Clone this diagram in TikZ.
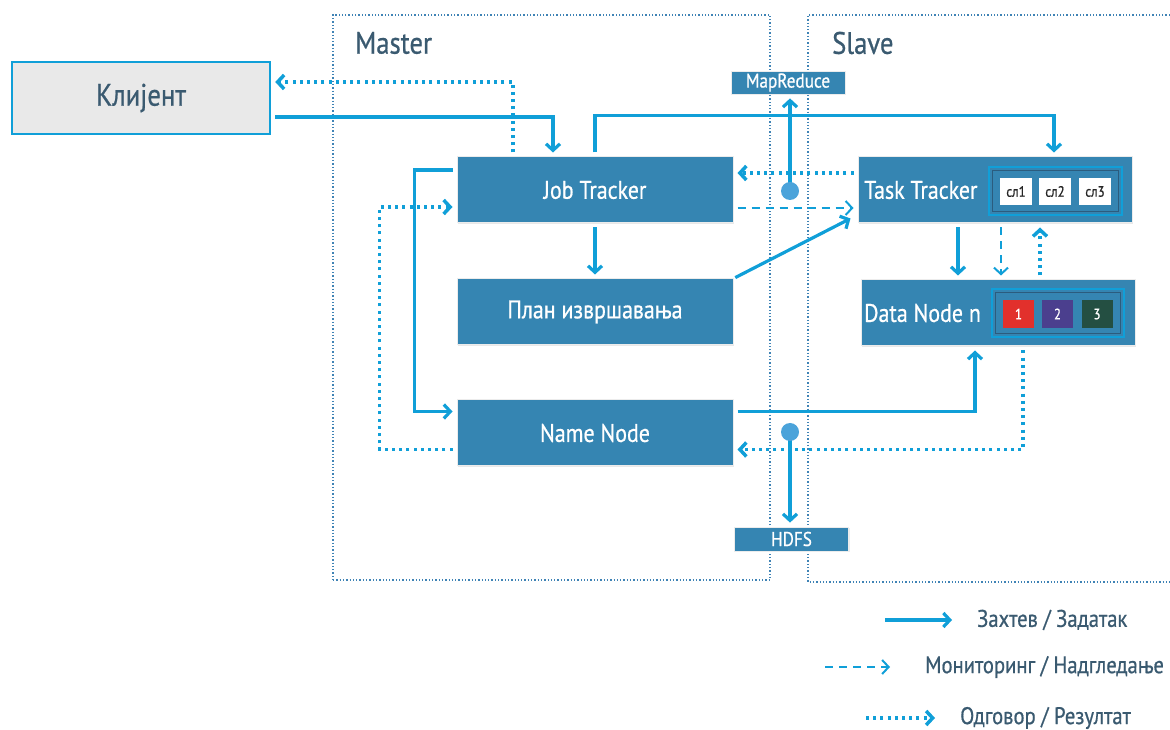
\documentclass[tikz,border=0pt]{standalone}
\usepackage{fontspec}
\setmainfont{PT Sans}[FakeStretch=0.86, FakeBold=0.7]
\usetikzlibrary{arrows.meta,shadows,calc}
\definecolor{flow}{HTML}{109FD8}
\definecolor{boxblue}{HTML}{3585B2}
\definecolor{dotblue}{HTML}{4BA3DA}
\definecolor{frameblue}{HTML}{3F83B5}
\definecolor{ink}{HTML}{3A5A70}
\definecolor{clientgray}{HTML}{E9E9E9}
\definecolor{blkred}{HTML}{E2302C}
\definecolor{blkpurple}{HTML}{4B3F8E}
\definecolor{blkgreen}{HTML}{244F42}
\definecolor{innerline}{HTML}{2B5C7E}
\newcommand\tsize[1]{\fontsize{#1}{#1}\selectfont}
\begin{document}
\begin{tikzpicture}[x=1pt,y=1pt,
  tip/.style={-{Straight Barb[length=6.5pt,width=14pt]}},
  flowline/.style={draw=flow, tip, shorten <=4pt, shorten >=4pt},
  req/.style={flowline, line width=3.2pt},
  mon/.style={flowline, line width=2pt, dash pattern=on 8pt off 6pt},
  res/.style={flowline, line width=3.5pt, dash pattern=on 3pt off 4.2pt},
  frame/.style={draw=frameblue, line width=1.2pt, dash pattern=on 1.3pt off 2pt},
  unit/.style={fill=boxblue, draw=white!85!gray, line width=1pt, text=white,
    inner sep=0pt, minimum height=66pt,
    drop shadow={shadow xshift=1pt, shadow yshift=-1pt, opacity=0.18}},
  tag/.style={fill=boxblue, draw=white!85!gray, line width=0.8pt, text=white,
    inner sep=0pt, minimum width=114pt, minimum height=23pt, font=\tsize{20},
    drop shadow={shadow xshift=1pt, shadow yshift=-1pt, opacity=0.15}},
  slotframe/.style={draw=flow, line width=2.4pt, minimum width=133pt, minimum height=48pt, inner sep=0pt},
  slotinner/.style={draw=innerline, line width=1.4pt, minimum width=126pt, minimum height=41pt, inner sep=0pt},
  slot/.style={fill=white, text=black!85, minimum width=32pt, minimum height=27pt, inner sep=0pt, font=\tsize{15}},
  block/.style={text=white, minimum width=31pt, minimum height=28pt, inner sep=0pt, font=\tsize{15}},
  hub/.style={circle, fill=dotblue, minimum size=18pt, inner sep=0pt},
  heading/.style={text=ink, font=\tsize{31}, anchor=west, inner sep=0pt},
  slavetext/.style={text=white, font=\tsize{25.5}, anchor=west, inner sep=0pt},
  legendtext/.style={text=ink, font=\tsize{24}, anchor=west, inner sep=0pt}
]
\useasboundingbox (0,0) rectangle (1170,729);

% cluster frames
\node[frame, minimum width=437pt, minimum height=565pt, inner sep=0pt] (master) at (551.5,431.5) {};
\draw[frame] (1170,714) -- (808,714) -- (808,147) -- (1170,147);
\node[heading] (masterlbl) at (355,686) {Master};
\node[heading] (slavelbl) at (832,686) {Slave};

% client
\node[fill=clientgray, draw=flow, line width=2.5pt, text=ink, font=\tsize{31},
  minimum width=258pt, minimum height=72pt, inner sep=0pt,
  drop shadow={shadow xshift=1pt, shadow yshift=-1pt, opacity=0.2}] (client) at (141,631) {Клијент};

% master nodes
\node[unit, minimum width=276pt, font=\tsize{25.5}] (jt) at (595,539) {Job Tracker};
\node[unit, minimum width=276pt, font=\tsize{25.5}] (plan) at (595,417) {План извршавања};
\node[unit, minimum width=276pt, font=\tsize{25.5}] (nn) at (595,296) {Name Node};

% slave nodes
\node[unit, minimum width=274pt] (tt) at (995,539) {};
\node[slavetext] (ttlbl) at (864,539) {Task Tracker};
\node[slotframe] (ttslots) at (1055.5,538) {};
\node[slotinner] (ttslotsin) at (1055.5,538) {};
\node[slot] (s1) at (1016,537.5) {сл1};
\node[slot] (s2) at (1055,537.5) {сл2};
\node[slot] (s3) at (1095,537.5) {сл3};

\node[unit, minimum width=274pt] (dn) at (998,416) {};
\node[slavetext] (dnlbl) at (864,416) {Data Node n};
\node[slotframe, minimum width=132pt] (dnblocks) at (1058,416) {};
\node[slotinner, minimum width=125pt] (dnblocksin) at (1058,416) {};
\node[block, fill=blkred] (b1) at (1018.5,415) {1};
\node[block, fill=blkpurple] (b2) at (1057.5,415) {2};
\node[block, fill=blkgreen] (b3) at (1097,415) {3};

% service tags
\node[tag] (mr) at (788,646.5) {MapReduce};
\node[tag, minimum height=24pt] (hdfs) at (791.5,190) {HDFS};
\coordinate (mrhub) at (790,538);
\coordinate (hdfshub) at (790,297);

% client <-> job tracker
\draw[req] ([yshift=-19pt]client.east) -| ([xshift=-42pt]jt.north);
\draw[res] ([xshift=-82pt]jt.north) |- ([yshift=16pt]client.east);

% job tracker -> task tracker, plan
\draw[req] (jt.north) -- ++(0,41) -| ([xshift=59pt]tt.north);
\draw[req] (jt.south) -- (plan.north);
\draw[req, shorten <=2pt, shorten >=0pt] (plan.north east) -- ([xshift=-7pt,yshift=5pt]tt.south west);
\draw[res] ([yshift=17pt]tt.west) -- ([yshift=17pt]jt.east);
\draw[mon] ([yshift=-18pt]jt.east) -- ([yshift=-18pt]tt.west);

% job tracker <-> name node
\draw[req] ([yshift=20pt]jt.west) -- ++(-42,0) |- ([yshift=21.5pt]nn.west);
\draw[res] ([yshift=-16.5pt]nn.west) -- ++(-77,0) |- ([yshift=-17pt]jt.west);

% name node <-> data node
\draw[req] ([yshift=21.5pt]nn.east) -| ([xshift=-23pt]dn.south);
\draw[res] ([xshift=25pt]dn.south) |- ([yshift=-16.5pt]nn.east);

% task tracker <-> data node
\draw[req] ([xshift=-37pt]tt.south) -- ([xshift=-37pt]tt.south |- dn.north);
\draw[mon] ([xshift=6pt]tt.south) -- ([xshift=6pt]tt.south |- dn.north);
\draw[res] ([xshift=42pt]dn.north) -- ([xshift=42pt]dn.north |- tt.south);

% service links
\draw[req, shorten <=0pt] (mrhub) -- (mrhub |- mr.south);
\draw[req, shorten <=0pt] (hdfshub) -- (hdfshub |- hdfs.north);
\node[hub] (mrdot) at (mrhub) {};
\node[hub] (hdfsdot) at (hdfshub) {};

% legend
\node[legendtext] (lgreq) at (977,109) {Захтев / Задатак};
\node[legendtext] (lgmon) at (925,62) {Мониторинг / Надгледање};
\node[legendtext] (lgres) at (960,11) {Одговор / Резултат};
\draw[req, shorten <=0pt, shorten >=0pt] ([xshift=-92pt]lgreq.west) -- ([xshift=-25pt]lgreq.west);
\draw[mon, shorten <=0pt, shorten >=0pt] ([xshift=-100pt]lgmon.west) -- ([xshift=-35pt]lgmon.west);
\draw[res, shorten <=0pt, shorten >=0pt] ([xshift=-94pt]lgres.west) -- ([xshift=-25pt]lgres.west);
\end{tikzpicture}
\end{document}
